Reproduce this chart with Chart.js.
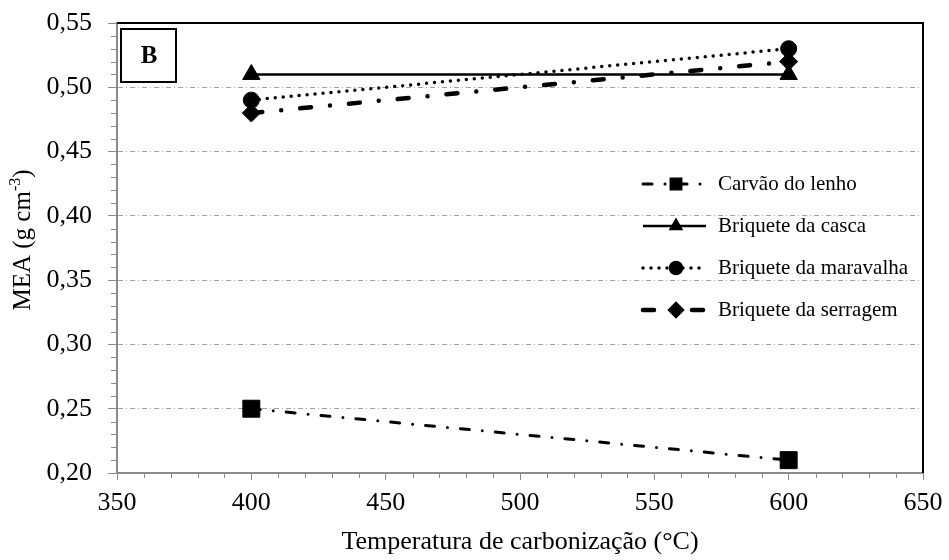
<!DOCTYPE html>
<html lang="pt">
<head>
<meta charset="utf-8">
<title>MEA x temperatura de carbonização</title>
<script src="https://cdn.jsdelivr.net/npm/chart.js@4.4.1/dist/chart.umd.min.js"></script>
<style>
  html, body { margin: 0; padding: 0; background: #fff; }
</style>
</head>
<body>
<canvas id="grafico" width="949" height="560"></canvas>
<script>
// valores (painel B)
const temperaturas = [400, 600];
const nomesSeries = ['Carvão do lenho', 'Briquete da casca', 'Briquete da maravalha', 'Briquete da serragem'];
const carvaoLenho = [0.25, 0.21];
const briqueteCasca = [0.51, 0.51];
const briqueteMaravalha = [0.49, 0.53];
const briqueteSerragem = [0.48, 0.52];

const limitesX = [350, 650];
const limitesY = [0.20, 0.55];

const FONTE = "'Liberation Serif', 'Times New Roman', serif";
const CINZA_EIXO = '#8a8a8a';

// estilo de linha e marcador de cada série
const estilos = [
  { dash: [9, 13, 0, 13], largura: 3, ponto: 'rect', raio: 12, raioLeg: 7 },
  { dash: [], largura: 2.5, ponto: 'triangle', raio: 10, raioLeg: 6 },
  { dash: [0, 8], largura: 3.5, ponto: 'circle', raio: 8, raioLeg: 5.5 },
  { dash: [11, 19, 0, 19], largura: 4.5, ponto: 'rectRot', raio: 9, raioLeg: 5.5 }
];

const valoresSeries = [carvaoLenho, briqueteCasca, briqueteMaravalha, briqueteSerragem];

function pontos(valores) {
  return temperaturas.map((t, i) => ({ x: t, y: valores[i] }));
}

const datasets = valoresSeries.map((valores, i) => ({
  label: nomesSeries[i],
  data: pontos(valores),
  borderColor: '#000',
  backgroundColor: '#000',
  borderWidth: estilos[i].largura,
  borderDash: estilos[i].dash,
  borderCapStyle: estilos[i].dash.length ? 'round' : 'butt',
  pointStyle: estilos[i].ponto,
  pointRadius: estilos[i].raio,
  pointBorderWidth: 1,
  pointBackgroundColor: '#000',
  pointBorderColor: '#000',
  tension: 0
}));

// moldura superior/direita, ticks menores, legenda, caixa "B" e título do eixo Y
const decoracao = {
  id: 'decoracao',
  afterDraw(chart) {
    const ctx = chart.ctx;
    const area = chart.chartArea;
    const sx = chart.scales.x;
    const sy = chart.scales.y;

    ctx.save();
    // bordas pretas em cima e à direita
    ctx.strokeStyle = '#000';
    ctx.lineWidth = 2;
    ctx.beginPath();
    ctx.moveTo(area.left, area.top);
    ctx.lineTo(area.right, area.top);
    ctx.lineTo(area.right, area.bottom);
    ctx.stroke();

    // ticks menores
    ctx.strokeStyle = CINZA_EIXO;
    ctx.lineWidth = 1;
    ctx.beginPath();
    for (let v = limitesX[0]; v <= limitesX[1]; v += 10) {
      if (v % 50 === 0) continue;
      const px = Math.round(sx.getPixelForValue(v)) + 0.5;
      ctx.moveTo(px, area.bottom);
      ctx.lineTo(px, area.bottom + 5);
    }
    for (let k = 20; k <= 55; k++) {
      if (k % 5 === 0) continue;
      const py = Math.round(sy.getPixelForValue(k / 100)) + 0.5;
      ctx.moveTo(area.left - 6, py);
      ctx.lineTo(area.left, py);
    }
    ctx.stroke();

    // legenda
    const linhasLeg = [184, 226, 268, 310];
    chart.data.datasets.forEach((ds, i) => {
      const y = linhasLeg[i];
      const est = estilos[i];
      ctx.strokeStyle = '#000';
      ctx.fillStyle = '#000';
      ctx.lineWidth = est.largura;
      ctx.lineCap = est.dash.length ? 'round' : 'butt';
      ctx.setLineDash(est.dash);
      ctx.beginPath();
      ctx.moveTo(643, y);
      ctx.lineTo(706, y);
      ctx.stroke();
      ctx.setLineDash([]);
      Chart.helpers.drawPoint(ctx, { pointStyle: est.ponto, radius: est.raioLeg, rotation: 0, borderWidth: 1 }, 676, y);
      ctx.font = '21px ' + FONTE;
      ctx.textBaseline = 'middle';
      ctx.textAlign = 'left';
      ctx.fillText(ds.label, 718, y);
    });

    // caixa "B"
    ctx.setLineDash([]);
    ctx.fillStyle = '#fff';
    ctx.fillRect(121, 29, 55, 53);
    ctx.strokeStyle = '#000';
    ctx.lineWidth = 2;
    ctx.strokeRect(121, 29, 55, 53);
    ctx.fillStyle = '#000';
    ctx.font = 'bold 25px ' + FONTE;
    ctx.textAlign = 'center';
    ctx.textBaseline = 'middle';
    ctx.fillText('B', 149, 57);

    // título do eixo Y com expoente
    ctx.translate(22, 240);
    ctx.rotate(-Math.PI / 2);
    const base = 'MEA (g cm';
    const expo = '-3';
    const fecha = ')';
    ctx.font = '25px ' + FONTE;
    const wBase = ctx.measureText(base).width;
    const wFecha = ctx.measureText(fecha).width;
    ctx.font = '16px ' + FONTE;
    const wExpo = ctx.measureText(expo).width;
    const x0 = -(wBase + wExpo + wFecha) / 2;
    ctx.textAlign = 'left';
    ctx.textBaseline = 'alphabetic';
    ctx.font = '25px ' + FONTE;
    ctx.fillText(base, x0, 8);
    ctx.font = '16px ' + FONTE;
    ctx.fillText(expo, x0 + wBase, -2);
    ctx.font = '25px ' + FONTE;
    ctx.fillText(fecha, x0 + wBase + wExpo, 8);
    ctx.restore();
  }
};

new Chart(document.getElementById('grafico'), {
  type: 'line',
  data: { datasets },
  options: {
    responsive: false,
    animation: false,
    devicePixelRatio: 1,
    layout: { padding: { top: 23, right: 26, left: 0, bottom: 0 } },
    plugins: {
      legend: { display: false },
      tooltip: { enabled: false }
    },
    scales: {
      x: {
        type: 'linear',
        min: limitesX[0],
        max: limitesX[1],
        ticks: {
          stepSize: 50,
          color: '#000',
          padding: 8,
          font: { family: FONTE, size: 26 }
        },
        grid: {
          drawOnChartArea: false,
          tickLength: 7,
          tickColor: CINZA_EIXO,
          tickWidth: 1
        },
        border: { color: CINZA_EIXO, width: 2 },
        title: {
          display: true,
          text: 'Temperatura de carbonização (°C)',
          color: '#000',
          font: { family: FONTE, size: 26 },
          padding: { top: 0, bottom: 2 }
        },
        afterFit(scale) {
          scale.height = 87;
          scale.paddingLeft = 0;
          scale.paddingRight = 0;
        }
      },
      y: {
        min: limitesY[0],
        max: limitesY[1],
        ticks: {
          stepSize: 0.05,
          color: '#000',
          padding: 16,
          font: { family: FONTE, size: 26 },
          callback: (v) => Number(v).toFixed(2).replace('.', ',')
        },
        grid: {
          color: (c) => (c.index === 0 || c.index === 7) ? 'rgba(0,0,0,0)' : '#a0a0a0',
          lineWidth: 1,
          tickLength: 9,
          tickColor: CINZA_EIXO,
          tickWidth: 1
        },
        border: { color: CINZA_EIXO, width: 2, dash: [5, 3, 1, 3] },
        afterFit(scale) {
          scale.width = 117;
          scale.paddingTop = 0;
          scale.paddingBottom = 0;
        }
      }
    }
  },
  plugins: [decoracao]
});
</script>
</body>
</html>
